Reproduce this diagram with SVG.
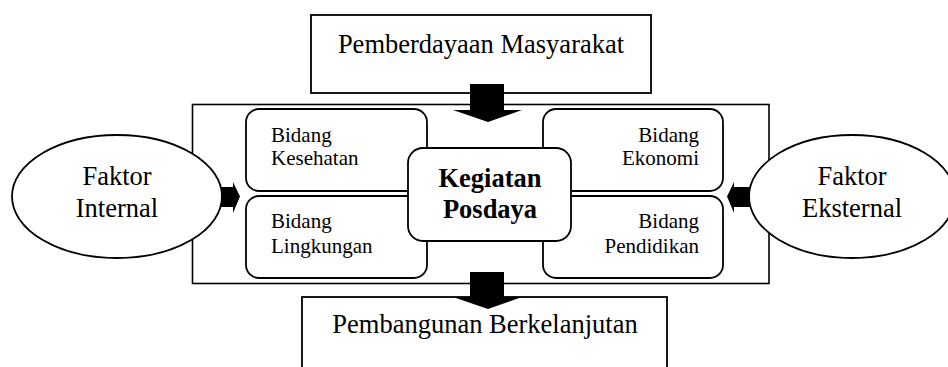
<svg xmlns="http://www.w3.org/2000/svg" width="948" height="367" viewBox="0 0 948 367">
<style>
.box{fill:#fff;stroke:#000;stroke-width:1.8}
.cont{fill:none;stroke:#000;stroke-width:1.6}
.arr{fill:#000;stroke:none}
.t{font-family:"Liberation Serif","Times New Roman",serif;fill:#000}
.big{font-size:26.5px}
.sm{font-size:21px}
.b{font-weight:bold}
</style>
<rect width="948" height="367" fill="#fff"/>
<g id="container"><rect class="cont" x="192.5" y="104.5" width="576.5" height="179"/></g>
<g id="pemberdayaan">
<rect class="box" x="311" y="15" width="340" height="78"/>
<text class="t big" x="481" y="53" text-anchor="middle">Pemberdayaan Masyarakat</text>
</g>
<g id="pembangunan">
<rect class="box" x="302" y="297" width="365" height="80"/>
<text class="t big" x="485" y="333" text-anchor="middle">Pembangunan Berkelanjutan</text>
</g>
<g id="kesehatan">
<rect class="box" x="246" y="109" width="181" height="82" rx="13"/>
<text class="t sm" x="271" y="142">Bidang</text>
<text class="t sm" x="271" y="165">Kesehatan</text>
</g>
<g id="lingkungan">
<rect class="box" x="246" y="196" width="181" height="82" rx="13"/>
<text class="t sm" x="271" y="228">Bidang</text>
<text class="t sm" x="271" y="253">Lingkungan</text>
</g>
<g id="ekonomi">
<rect class="box" x="543" y="109" width="180" height="82" rx="13"/>
<text class="t sm" x="699" y="142" text-anchor="end">Bidang</text>
<text class="t sm" x="699" y="165" text-anchor="end">Ekonomi</text>
</g>
<g id="pendidikan">
<rect class="box" x="543" y="196" width="180" height="82" rx="13"/>
<text class="t sm" x="699" y="228" text-anchor="end">Bidang</text>
<text class="t sm" x="699" y="253" text-anchor="end">Pendidikan</text>
</g>
<g id="posdaya">
<rect class="box" x="408" y="148" width="163" height="93" rx="15"/>
<text class="t big b" x="490" y="187" text-anchor="middle">Kegiatan</text>
<text class="t big b" x="490" y="218" text-anchor="middle">Posdaya</text>
</g>
<g id="internal">
<ellipse class="box" cx="117" cy="196.5" rx="105" ry="61.5"/>
<text class="t big" x="117" y="185" text-anchor="middle">Faktor</text>
<text class="t big" x="117" y="217" text-anchor="middle">Internal</text>
</g>
<g id="eksternal">
<ellipse class="box" cx="852" cy="196.5" rx="103" ry="61.5"/>
<text class="t big" x="852" y="185" text-anchor="middle">Faktor</text>
<text class="t big" x="852" y="217" text-anchor="middle">Eksternal</text>
</g>
<g id="connectors">
<polygon class="arr" points="470,84 504,84 504,110 522,110 488,122 453,110 470,110"/>
<polygon class="arr" points="470,272 504,272 504,297 522,297 488,309 453,297 470,297"/>
<polygon class="arr" points="221,187 233,187 233,182 240,196.5 233,213 233,207 221,207"/>
<polygon class="arr" points="750,187 734,187 734,182 727,196.5 734,213 734,207 750,207"/>
</g>
</svg>
